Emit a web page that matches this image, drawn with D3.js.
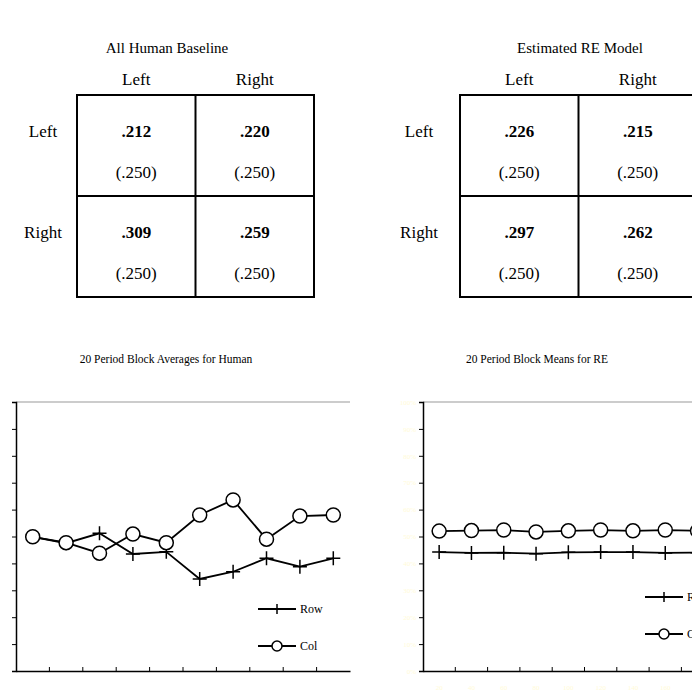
<!DOCTYPE html>
<html><head><meta charset="utf-8">
<script src="https://cdn.jsdelivr.net/npm/d3@7"></script>
<style>body{margin:0;background:#fff}svg{font-family:"Liberation Serif","Times New Roman",serif}</style>
</head><body><svg id="c" width="692" height="698"></svg>
<script>
const tableTitles = ["All Human Baseline", "Estimated RE Model"];
const cellLabels = ["Left", "Right"];
const humanCells = [[".212", ".220"], [".309", ".259"]];
const reCells = [[".226", ".215"], [".297", ".262"]];
const expectedCell = "(.250)";
const periods = [20, 40, 60, 80, 100, 120, 140, 160, 180, 200];
const yTicks = [0, 10, 20, 30, 40, 50, 60, 70, 80, 90, 100];
const humanRow = [49.9, 47.5, 51.2, 43.5, 44.3, 34.2, 36.9, 41.9, 38.8, 41.9];
const humanCol = [49.9, 47.7, 43.8, 50.9, 47.7, 58.0, 63.6, 49.0, 57.6, 58.0];
const reRow = [44.2, 43.9, 44.0, 43.6, 44.1, 44.2, 44.2, 43.9, 44.0, 44.1];
const reCol = [52.0, 52.2, 52.4, 51.7, 52.1, 52.4, 52.1, 52.4, 52.1, 52.2];
const chartTitles = ["20 Period Block Averages for Human", "20 Period Block Means for RE"];

const svg = d3.select("#c");
const FS = 17;

function table(x0, title, cells, titleX, rowLabelX) {
  const g = svg.append("g");
  const w = 237, h = 202, y0 = 95;
  g.append("text").attr("x", titleX).attr("y", 53).attr("text-anchor", "middle").attr("font-size", 15).text(title);
  const cx = d3.scaleBand().domain([0, 1]).range([x0, x0 + w]);
  const cy = d3.scaleBand().domain([0, 1]).range([y0, y0 + h]);
  cellLabels.forEach((l, i) => {
    g.append("text").attr("x", cx(i) + cx.bandwidth() / 2).attr("y", 85).attr("text-anchor", "middle").attr("font-size", FS).text(l);
    g.append("text").attr("x", rowLabelX).attr("y", cy(i) + 42).attr("text-anchor", "middle").attr("font-size", FS).text(l);
  });
  cells.forEach((row, i) => row.forEach((v, j) => {
    const xc = cx(j) + cx.bandwidth() / 2;
    g.append("text").attr("x", xc).attr("y", cy(i) + 42).attr("text-anchor", "middle").attr("font-size", FS).attr("font-weight", "bold").text(v);
    g.append("text").attr("x", xc).attr("y", cy(i) + 83).attr("text-anchor", "middle").attr("font-size", FS).text(expectedCell);
  }));
  g.append("rect").attr("x", x0).attr("y", y0).attr("width", w).attr("height", h).attr("fill", "none").attr("stroke", "#000").attr("stroke-width", 2);
  g.append("line").attr("x1", x0 + w / 2).attr("x2", x0 + w / 2).attr("y1", y0).attr("y2", y0 + h).attr("stroke", "#000").attr("stroke-width", 2);
  g.append("line").attr("x1", x0).attr("x2", x0 + w).attr("y1", y0 + h / 2).attr("y2", y0 + h / 2).attr("stroke", "#000").attr("stroke-width", 2);
}
table(77, tableTitles[0], humanCells, 167, 43);
table(460, tableTitles[1], reCells, 580, 419);

function chart(x0, w, title, titleX, row, col, legX, legY, faint) {
  const g = svg.append("g");
  const top = 402, bottom = 671;
  g.append("text").attr("x", titleX).attr("y", 363).attr("text-anchor", "middle").attr("font-size", 11.5).text(title);
  const x = d3.scaleBand().domain(periods).range([x0, x0 + w]);
  const y = d3.scaleLinear().domain([0, 100]).range([bottom, top]);
  const xc = d => x(d) + x.bandwidth() / 2;
  g.append("line").attr("x1", x0).attr("x2", x0 + w).attr("y1", top).attr("y2", top).attr("stroke", "#bbb").attr("stroke-width", 1.5);
  const ya = g.append("g").attr("transform", `translate(${x0},0)`)
    .call(d3.axisLeft(y).tickValues(yTicks).tickSize(4).tickFormat(d => faint ? d + "%" : ""));
  ya.select(".domain").attr("stroke-width", 1.5);
  ya.selectAll("text").attr("font-size", 7).attr("fill", "#fffbd8").attr("font-family", "Liberation Serif");
  const xa = g.append("g").attr("transform", `translate(0,${bottom})`)
    .call(d3.axisBottom(x).tickSize(0).tickFormat(d => faint ? d : ""));
  xa.select(".domain").attr("stroke-width", 1.5);
  xa.selectAll("text").attr("font-size", 7).attr("dy", 16).attr("fill", "#fffbd8").attr("font-family", "Liberation Serif");
  periods.slice(0, -1).forEach(p => {
    g.append("line").attr("x1", x(p) + x.bandwidth()).attr("x2", x(p) + x.bandwidth()).attr("y1", bottom).attr("y2", bottom - 4).attr("stroke", "#000");
  });
  const line = d3.line().x((d, i) => xc(periods[i])).y(d => y(d));
  g.append("path").datum(row).attr("d", line).attr("fill", "none").attr("stroke", "#000").attr("stroke-width", 1.8);
  g.append("path").datum(col).attr("d", line).attr("fill", "none").attr("stroke", "#000").attr("stroke-width", 1.8);
  const plus = (gg, cx, cy, s) => {
    gg.append("path").attr("d", `M${cx - s},${cy}H${cx + s}M${cx},${cy - s}V${cy + s}`).attr("stroke", "#000").attr("stroke-width", 1.5);
  };
  row.forEach((v, i) => plus(g, xc(periods[i]), y(v), 7));
  col.forEach((v, i) => g.append("circle").attr("cx", xc(periods[i])).attr("cy", y(v)).attr("r", 7).attr("fill", "#fff").attr("stroke", "#000").attr("stroke-width", 1.5));
  [["Row", legY], ["Col", legY + 37]].forEach(([name, ly], k) => {
    g.append("line").attr("x1", legX).attr("x2", legX + 38).attr("y1", ly).attr("y2", ly).attr("stroke", "#000").attr("stroke-width", 1.8);
    if (k === 0) plus(g, legX + 19, ly, 5);
    else g.append("circle").attr("cx", legX + 19).attr("cy", ly).attr("r", 5).attr("fill", "#fff").attr("stroke", "#000").attr("stroke-width", 1.5);
    g.append("text").attr("x", legX + 42).attr("y", ly + 4).attr("font-size", 12).text(name);
  });
}
chart(16, 334, chartTitles[0], 166, humanRow, humanCol, 258, 609, false);
chart(423, 323, chartTitles[1], 537, reRow, reCol, 645, 597, true);
</script></body></html>
